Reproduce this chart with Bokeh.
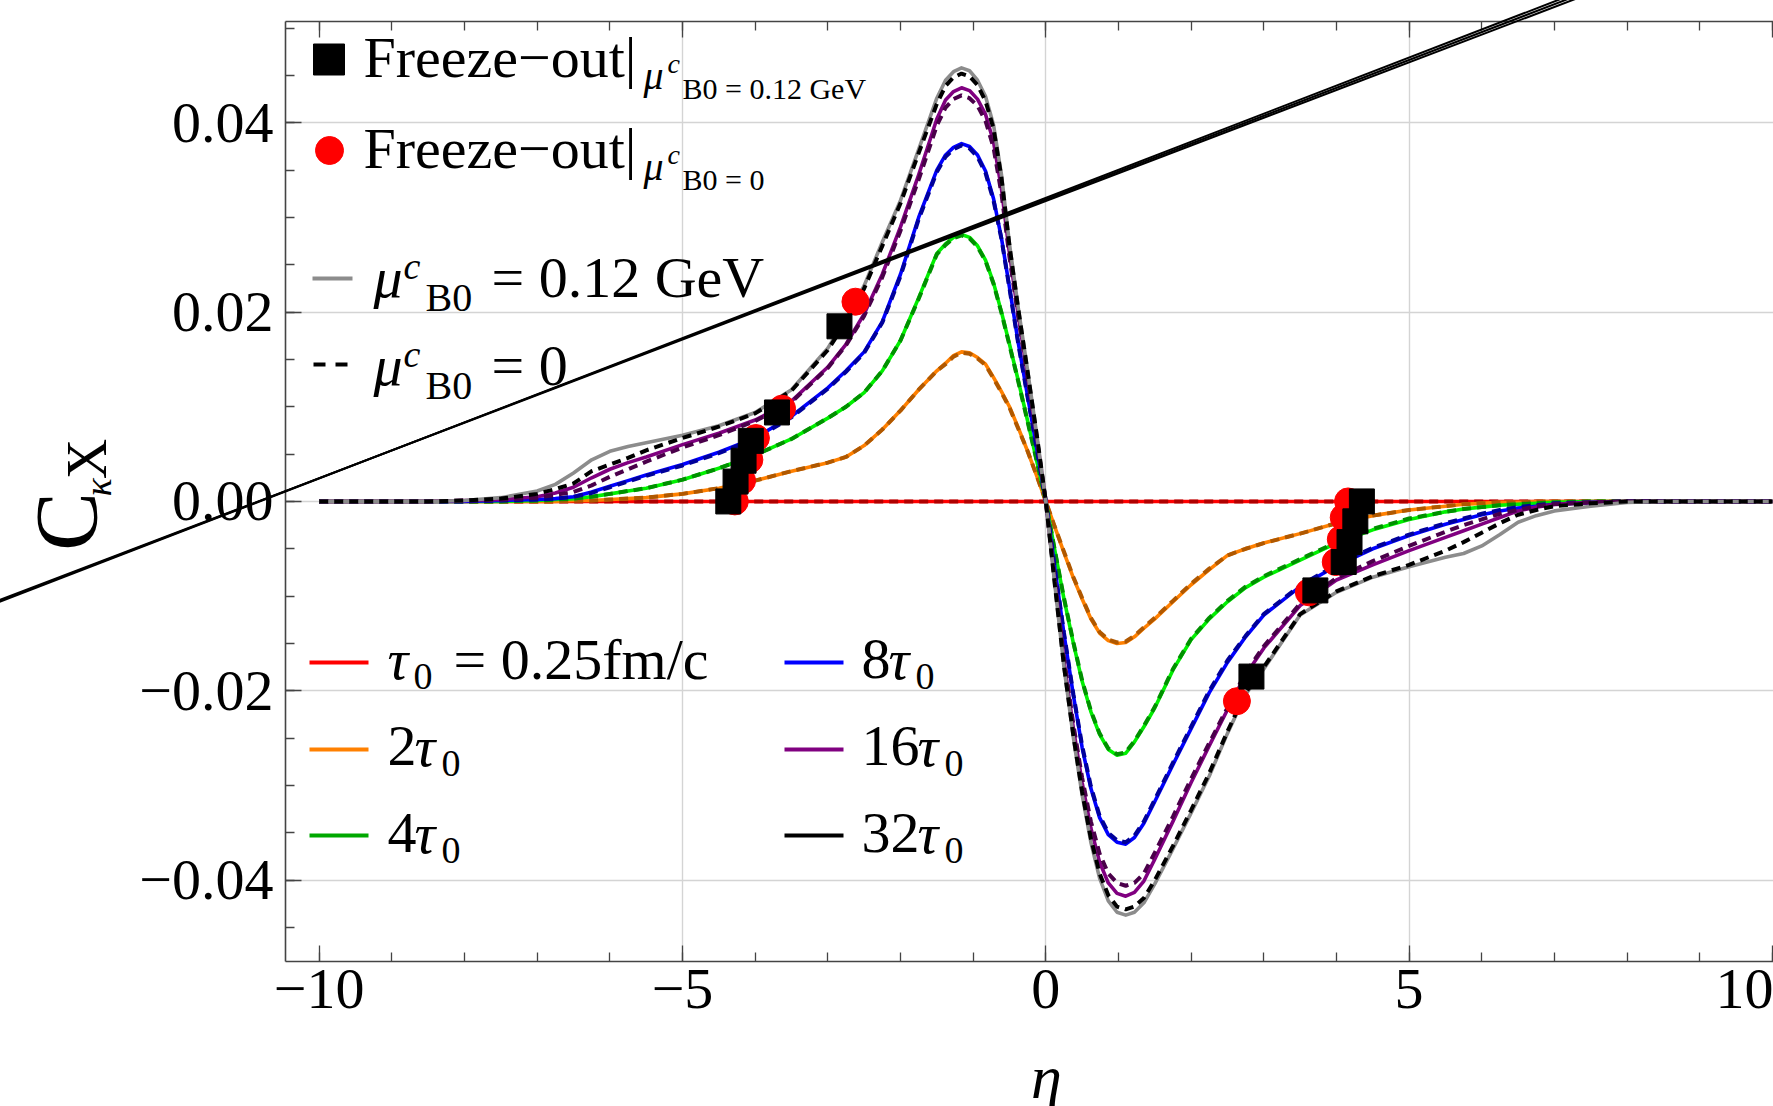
import math
from bokeh.plotting import figure
from bokeh.models import Range1d, FixedTicker, LinearAxis
from bokeh.core.properties import value
from bokeh.embed import file_html
from bokeh.resources import INLINE

# ---------------------------------------------------------------- data
ETA = [-10, -8.5, -8, -7.5, -7, -6.75, -6.5, -6.25, -6, -5.75,
       -5.5, -5, -4.5, -4, -3.5, -3, -2.75, -2.5, -2.25, -2,
       -1.75, -1.5,
       -1.38, -1.27, -1.16, -1.05, -0.94, -0.83, -0.72, -0.61, -0.5, -0.38, -0.25, -0.12,
       0,
       0.12, 0.25, 0.38, 0.5, 0.62, 0.74, 0.86, 0.98, 1.1, 1.22, 1.35, 1.5,
       1.75, 2, 2.25, 2.5, 2.75, 3, 3.5, 4, 4.5, 5,
       5.5, 5.75, 6, 6.25, 6.5, 6.75, 7, 7.5, 8, 8.5, 10]

# tau0 = 0.25 fm/c
C1_MU = [0.0] * 68
C1_0 = [0.0] * 68

# 2 tau0
C2_MU = [0, 0, 0, 0, 0, 0, 0.0001, 0.0001, 0.0002, 0.0003,
         0.0004, 0.0008, 0.0014, 0.0022, 0.0032, 0.0041, 0.0047, 0.0059, 0.0076, 0.0096,
         0.0118, 0.0138,
         0.0146, 0.0154, 0.0158, 0.0157, 0.0152, 0.0145, 0.0131, 0.0116, 0.0100, 0.0078, 0.0053, 0.0026,
         0,
         -0.0026, -0.0054, -0.0081, -0.0103, -0.0124, -0.0139, -0.0147, -0.0150, -0.0149, -0.0143, -0.0134, -0.0124,
         -0.0106, -0.0088, -0.0072, -0.0057, -0.0050, -0.0044, -0.0034, -0.0023, -0.0015, -0.0009,
         -0.0005, -0.0003, -0.0002, -0.0001, -0.0001, 0, 0, 0, 0, 0, 0]
C2_0 = [0, 0, 0, 0, 0, 0, 0.0001, 0.0001, 0.0002, 0.0003,
        0.0004, 0.0008, 0.0014, 0.0022, 0.0032, 0.0041, 0.0047, 0.0059, 0.0076, 0.0096,
        0.0118, 0.0138,
        0.0145, 0.0153, 0.0157, 0.0156, 0.0151, 0.0144, 0.0130, 0.0115, 0.0099, 0.0077, 0.0053, 0.0026,
        0,
        -0.0026, -0.0053, -0.0080, -0.0102, -0.0123, -0.0138, -0.0146, -0.0149, -0.0148, -0.0142, -0.0133, -0.0123,
        -0.0105, -0.0087, -0.0071, -0.0057, -0.0050, -0.0044, -0.0034, -0.0023, -0.0015, -0.0009,
        -0.0005, -0.0003, -0.0002, -0.0001, -0.0001, 0, 0, 0, 0, 0, 0]

# 4 tau0
C4_MU = [0, 0, 0, 0, 0.0001, 0.0002, 0.0003, 0.0005, 0.0008, 0.0011,
         0.0014, 0.0023, 0.0035, 0.0049, 0.0066, 0.0088, 0.0100, 0.0115, 0.0138, 0.0170,
         0.0215, 0.0262,
         0.0272, 0.0279, 0.0282, 0.0279, 0.0270, 0.0255, 0.0231, 0.0200, 0.0166, 0.0128, 0.0085, 0.0041,
         0,
         -0.0050, -0.0103, -0.0150, -0.0190, -0.0222, -0.0246, -0.0262, -0.0268, -0.0266, -0.0254, -0.0238, -0.0218,
         -0.0178, -0.0146, -0.0124, -0.0106, -0.0091, -0.0080, -0.0062, -0.0044, -0.0030, -0.0019,
         -0.0011, -0.0008, -0.0006, -0.0004, -0.0003, -0.0002, -0.0001, 0, 0, 0, 0]
C4_0 = [0, 0, 0, 0, 0.0001, 0.0002, 0.0003, 0.0005, 0.0008, 0.0011,
        0.0014, 0.0023, 0.0035, 0.0049, 0.0066, 0.0088, 0.0100, 0.0115, 0.0138, 0.0170,
        0.0214, 0.0261,
        0.0271, 0.0278, 0.0281, 0.0278, 0.0269, 0.0254, 0.0230, 0.0199, 0.0165, 0.0127, 0.0084, 0.0041,
        0,
        -0.0050, -0.0102, -0.0149, -0.0189, -0.0221, -0.0245, -0.0261, -0.0267, -0.0265, -0.0253, -0.0237, -0.0217,
        -0.0177, -0.0145, -0.0123, -0.0105, -0.0090, -0.0079, -0.0061, -0.0043, -0.0029, -0.0018,
        -0.0011, -0.0008, -0.0006, -0.0004, -0.0003, -0.0002, -0.0001, 0, 0, 0, 0]

# 8 tau0
C8_MU = [0, 0, 0, 0.0001, 0.0002, 0.0003, 0.0005, 0.0010, 0.0016, 0.0022,
         0.0028, 0.0039, 0.0052, 0.0067, 0.0090, 0.0120, 0.0138, 0.0158, 0.0190, 0.0240,
         0.0300, 0.0350,
         0.0366, 0.0374, 0.0378, 0.0375, 0.0366, 0.0349, 0.0320, 0.0278, 0.0226, 0.0168, 0.0111, 0.0054,
         0,
         -0.0068, -0.0140, -0.0205, -0.0260, -0.0303, -0.0334, -0.0352, -0.0360, -0.0362, -0.0355, -0.0340, -0.0317,
         -0.0278, -0.0240, -0.0202, -0.0170, -0.0143, -0.0120, -0.0090, -0.0068, -0.0050, -0.0036,
         -0.0024, -0.0019, -0.0014, -0.0010, -0.0007, -0.0005, -0.0003, -0.0001, 0, 0, 0]
C8_0 = [0, 0, 0, 0.0001, 0.0002, 0.0003, 0.0005, 0.0009, 0.0015, 0.0021,
        0.0027, 0.0038, 0.0051, 0.0066, 0.0089, 0.0119, 0.0137, 0.0157, 0.0189, 0.0238,
        0.0298, 0.0348,
        0.0364, 0.0372, 0.0376, 0.0373, 0.0364, 0.0347, 0.0318, 0.0277, 0.0225, 0.0167, 0.0110, 0.0054,
        0,
        -0.0068, -0.0139, -0.0204, -0.0258, -0.0301, -0.0332, -0.0350, -0.0358, -0.0360, -0.0353, -0.0338, -0.0315,
        -0.0276, -0.0238, -0.0200, -0.0168, -0.0142, -0.0119, -0.0089, -0.0067, -0.0049, -0.0035,
        -0.0023, -0.0018, -0.0013, -0.0009, -0.0006, -0.0004, -0.0002, -0.0001, 0, 0, 0]

# 16 tau0
C16_MU = [0, 0, 0.0001, 0.0002, 0.0005, 0.0009, 0.0015, 0.0025, 0.0034, 0.0041,
          0.0047, 0.0060, 0.0072, 0.0086, 0.0106, 0.0142, 0.0166, 0.0198, 0.0240, 0.0290,
          0.0345, 0.0404,
          0.0424, 0.0433, 0.0437, 0.0434, 0.0425, 0.0409, 0.0380, 0.0330, 0.0262, 0.0197, 0.0132, 0.0065,
          0,
          -0.0081, -0.0168, -0.0240, -0.0297, -0.0345, -0.0381, -0.0403, -0.0414, -0.0417, -0.0413, -0.0401, -0.0378,
          -0.0338, -0.0297, -0.0258, -0.0220, -0.0183, -0.0155, -0.0110, -0.0083, -0.0067, -0.0052,
          -0.0038, -0.0031, -0.0024, -0.0017, -0.0010, -0.0006, -0.0003, -0.0001, 0, 0, 0]
C16_0 = [0, 0, 0.0001, 0.0002, 0.0004, 0.0007, 0.0010, 0.0017, 0.0026, 0.0034,
         0.0042, 0.0057, 0.0070, 0.0085, 0.0105, 0.0141, 0.0165, 0.0196, 0.0237, 0.0286,
         0.0340, 0.0397,
         0.0416, 0.0425, 0.0429, 0.0426, 0.0418, 0.0402, 0.0374, 0.0325, 0.0258, 0.0195, 0.0130, 0.0064,
         0,
         -0.0080, -0.0165, -0.0236, -0.0292, -0.0338, -0.0372, -0.0393, -0.0403, -0.0406, -0.0403, -0.0393, -0.0371,
         -0.0333, -0.0293, -0.0255, -0.0218, -0.0181, -0.0153, -0.0108, -0.0081, -0.0063, -0.0047,
         -0.0032, -0.0025, -0.0019, -0.0013, -0.0009, -0.0005, -0.0003, -0.0001, 0, 0, 0]

# 32 tau0
C32_MU = [0, 0, 0.0001, 0.0004, 0.0011, 0.0018, 0.0030, 0.0044, 0.0053, 0.0058,
          0.0062, 0.0070, 0.0080, 0.0094, 0.0118, 0.0162, 0.0193, 0.0228, 0.0274, 0.0318,
          0.0372, 0.0426,
          0.0445, 0.0454, 0.0458, 0.0455, 0.0445, 0.0428, 0.0398, 0.0345, 0.0272, 0.0205, 0.0138, 0.0068,
          0,
          -0.0085, -0.0175, -0.0250, -0.0310, -0.0360, -0.0398, -0.0422, -0.0434, -0.0437, -0.0434, -0.0424, -0.0404,
          -0.0367, -0.0329, -0.0290, -0.0245, -0.0204, -0.0177, -0.0120, -0.0096, -0.0080, -0.0069,
          -0.0059, -0.0055, -0.0047, -0.0035, -0.0022, -0.0015, -0.0010, -0.0005, -0.0001, 0, 0]
C32_0 = [0, 0, 0.0001, 0.0003, 0.0008, 0.0013, 0.0019, 0.0032, 0.0039, 0.0046,
         0.0054, 0.0067, 0.0079, 0.0093, 0.0117, 0.0160, 0.0190, 0.0225, 0.0270, 0.0315,
         0.0368, 0.0420,
         0.0439, 0.0448, 0.0452, 0.0449, 0.0440, 0.0423, 0.0394, 0.0342, 0.0270, 0.0204, 0.0137, 0.0068,
         0,
         -0.0085, -0.0174, -0.0248, -0.0307, -0.0356, -0.0393, -0.0416, -0.0428, -0.0431, -0.0428, -0.0419, -0.0400,
         -0.0364, -0.0326, -0.0287, -0.0243, -0.0202, -0.0175, -0.0119, -0.0095, -0.0079, -0.0067,
         -0.0052, -0.0043, -0.0033, -0.0023, -0.0014, -0.0009, -0.0005, -0.0002, 0, 0, 0]

# freeze-out points (32, 16, 8, 4, 2, 1 tau0 on each side)
FO_MU_ETA = [-2.84, -3.70, -4.06, -4.16, -4.27, -4.37, 2.83, 3.71, 4.10, 4.18, 4.26, 4.35]
FO_MU_C = [0.0185, 0.0094, 0.0064, 0.0043, 0.0021, 0.0, -0.0185, -0.0094, -0.0064, -0.0043, -0.0021, 0.0]
FO_0_ETA = [-2.62, -3.63, -3.99, -4.08, -4.18, -4.28, 2.63, 3.62, 3.99, 4.06, 4.10, 4.16]
FO_0_C = [0.0211, 0.0098, 0.0067, 0.0044, 0.0022, 0.0, -0.0211, -0.0096, -0.0064, -0.0040, -0.0017, 0.0]

# straight reference strands
STRAND_ETA = [-14.6, 7.5]
STRAND_C = [[-0.0110, 0.0537], [-0.0111, 0.0540], [-0.0112, 0.0543]]

X_MAJOR = [-10, -5, 0, 5, 10]
X_MINOR = list(range(-10, 11))
X_LABELS = ["\u221210", "\u22125", "0", "5", "10"]
Y_MAJOR = [-0.04, -0.02, 0.0, 0.02, 0.04]
Y_MINOR = [-0.045, -0.04, -0.035, -0.03, -0.025, -0.02, -0.015, -0.01, -0.005, 0.0,
           0.005, 0.01, 0.015, 0.02, 0.025, 0.03, 0.035, 0.04, 0.045, 0.05]
Y_LABELS = ["\u22120.04", "\u22120.02", "0.00", "0.02", "0.04"]

# ---------------------------------------------------------------- layout
W, H = 1773, 1106
FL, FT, FB = 285, 21, 961
X_LO, X_HI = -10.464, 10.015
Y_LO, Y_HI = -0.0486, 0.0507
FONT = "Liberation Serif"
BASELINE_SHIFT = 0.37   # em fraction: text glyphs land this much below the requested baseline


def px_x(px):
    return X_LO + (px - FL) * (X_HI - X_LO) / (W - FL)


def px_y(py):
    return Y_HI - (py - FT) * (Y_HI - Y_LO) / (FB - FT)


p = figure(width=W, height=H, x_range=Range1d(X_LO, X_HI), y_range=Range1d(Y_LO, Y_HI),
           output_backend="svg", toolbar_location=None,
           min_border_left=FL, min_border_right=0, min_border_top=FT,
           min_border_bottom=H - FB)
p.outline_line_color = None
p.background_fill_color = "white"
p.border_fill_color = "white"

bottom = p.below[0]
left = p.left[0]
top = LinearAxis(ticker=FixedTicker(ticks=X_MAJOR, minor_ticks=X_MINOR))
p.add_layout(top, "above")

for ax in (bottom, left, top):
    ax.major_tick_in = 16
    ax.major_tick_out = 0
    ax.minor_tick_in = 9
    ax.minor_tick_out = 0
    ax.axis_line_color = "#444444"
    ax.axis_line_width = 1.6
    ax.major_tick_line_color = "#444444"
    ax.minor_tick_line_color = "#444444"
    ax.major_tick_line_width = 1.3
    ax.minor_tick_line_width = 1.3
    ax.major_label_text_font = FONT
    ax.major_label_text_font_size = "58px"
    ax.major_label_text_color = "black"

bottom.ticker = FixedTicker(ticks=X_MAJOR, minor_ticks=X_MINOR)
bottom.major_label_overrides = dict(zip(X_MAJOR, X_LABELS))
bottom.major_label_standoff = 8
left.ticker = FixedTicker(ticks=Y_MAJOR, minor_ticks=Y_MINOR)
left.major_label_overrides = dict(zip(Y_MAJOR, Y_LABELS))
left.major_label_standoff = 12
top.major_label_overrides = {t: "" for t in X_MAJOR}
top.major_label_text_font_size = "1px"
top.major_label_standoff = 0

p.xgrid.ticker = FixedTicker(ticks=[-5, 0, 5])
p.ygrid.ticker = FixedTicker(ticks=Y_MAJOR)
for g in (p.xgrid[0], p.ygrid[0]):
    g.grid_line_color = "#d4d4d4"
    g.grid_line_width = 1.4

# ---------------------------------------------------------------- curves
SERIES = [
    (C1_MU, C1_0, "#ff0000", "#b00000"),
    (C2_MU, C2_0, "#ff8000", "#b05800"),
    (C4_MU, C4_0, "#00f000", "#009000"),
    (C8_MU, C8_0, "#0000ff", "#00009a"),
    (C16_MU, C16_0, "#800080", "#4a004a"),
    (C32_MU, C32_0, "#8c8c8c", "#000000"),
]
for solid, dashed, c_solid, c_dash in SERIES:
    p.line(ETA, solid, line_color=c_solid, line_width=3.6, line_join="round")
    p.line(ETA, dashed, line_color=c_dash, line_width=4, line_dash="9 6")

p.scatter(FO_0_ETA, FO_0_C, marker="circle", size=27, fill_color="red", line_color="red")
p.scatter(FO_MU_ETA, FO_MU_C, marker="square", size=25, fill_color="black", line_color="black")

for cs in STRAND_C:
    p.line(STRAND_ETA, cs, line_color="black", line_width=2, level="overlay")


# ---------------------------------------------------------------- texts
def run(text, x, base, size, style="normal", angle=0.0, align="left", baseline="alphabetic"):
    y = base - BASELINE_SHIFT * size if baseline == "alphabetic" else base
    p.text(x=[px_x(x)], y=[px_y(y)], text=[text], text_font=value(FONT),
           text_font_size=value(f"{size}px"), text_font_style=style,
           text_color="black", text_align=align, text_baseline=baseline,
           angle=angle, level="overlay")


def key_line(x0, x1, y, color, dash="solid"):
    p.line([px_x(x0), px_x(x1)], [px_y(y), px_y(y)], line_color=color,
           line_width=4, line_dash=dash)


# upper legend
p.scatter([px_x(328.5)], [px_y(59)], marker="square", size=31, color="black")
run("Freeze\u2212out|", 363, 78, 58)
run("\u03bc", 643, 90, 40, "italic")
run("c", 667, 73, 28, "italic")
run("B0 = 0.12 GeV", 682, 99, 30)

p.scatter([px_x(329)], [px_y(150)], marker="circle", size=28, color="red")
run("Freeze\u2212out|", 363, 169, 58)
run("\u03bc", 643, 181, 40, "italic")
run("c", 667, 164, 28, "italic")
run("B0 = 0", 682, 190, 30)

key_line(312, 352, 278, "#8c8c8c")
run("\u03bc", 373, 298, 58, "italic")
run("c", 403, 280, 38, "italic")
run("B0", 425, 312, 40)
run("= 0.12 GeV", 491, 298, 58)

key_line(313, 351, 364, "black", "12 10")
run("\u03bc", 373, 386, 58, "italic")
run("c", 403, 368, 38, "italic")
run("B0", 425, 400, 40)
run("= 0", 491, 386, 58)

# lower legend
key_line(309, 368, 662, "#ff0000")
run("\u03c4", 387, 680, 58, "italic")
run("0", 413, 690, 38)
run("= 0.25fm/c", 453, 680, 58)

key_line(309, 368, 749, "#ff8000")
run("2", 387, 767, 58)
run("\u03c4", 414, 767, 58, "italic")
run("0", 441, 777, 38)

key_line(309, 368, 835, "#00a800")
run("4", 387, 854, 58)
run("\u03c4", 414, 854, 58, "italic")
run("0", 441, 864, 38)

key_line(784, 843, 662, "#0000ff")
run("8", 861, 680, 58)
run("\u03c4", 888, 680, 58, "italic")
run("0", 915, 690, 38)

key_line(784, 843, 749, "#800080")
run("16", 861, 767, 58)
run("\u03c4", 917, 767, 58, "italic")
run("0", 944, 777, 38)

key_line(784, 843, 835, "black")
run("32", 861, 854, 58)
run("\u03c4", 917, 854, 58, "italic")
run("0", 944, 864, 38)

# axis titles
run("C", 66, 521, 88, "normal", math.pi / 2, "center", "middle")
run("\u03ba", 97, 487, 38, "italic", math.pi / 2, "center", "middle")
run("X", 86.5, 458.5, 56, "normal", math.pi / 2, "center", "middle")
run("\u03b7", 1046, 1099, 62, "italic", 0.0, "center", "alphabetic")

open("out.html", "w").write(file_html(p, INLINE))
